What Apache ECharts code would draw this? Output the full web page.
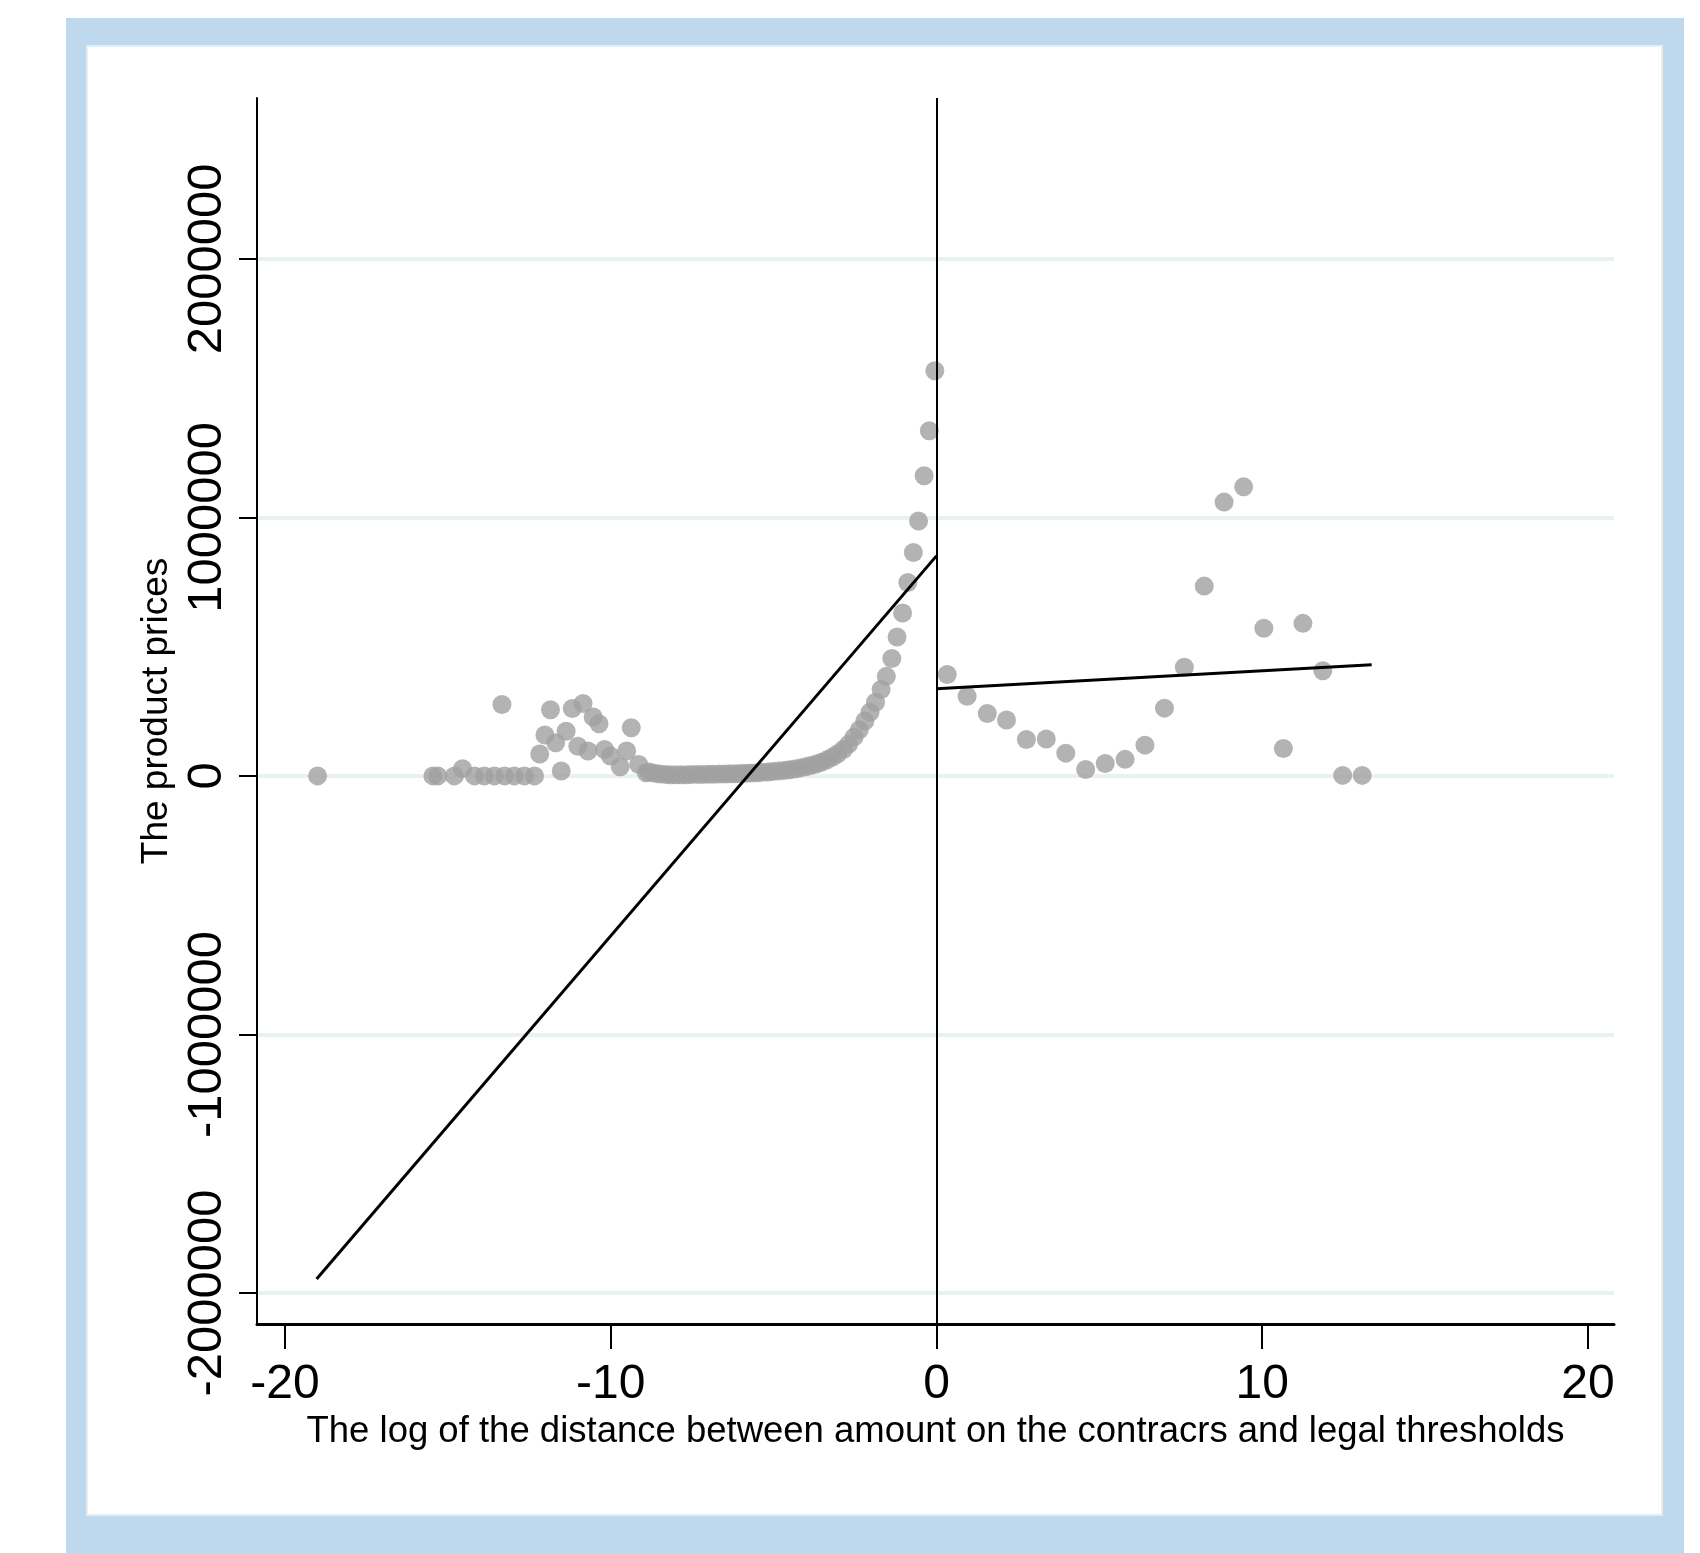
<!DOCTYPE html>
<html>
<head>
<meta charset="utf-8">
<title>Product prices vs log distance to thresholds</title>
<script src="https://cdn.jsdelivr.net/npm/echarts@6/dist/echarts.min.js"></script>
<style>
  html, body { margin: 0; padding: 0; background: #fff; }
  #main { width: 1700px; height: 1553px; }
</style>
</head>
<body>
<div id="main"></div>
<script>
// binned means, left of the threshold
const leftBinX = [
  -19.0, -15.46, -15.31, -14.80, -14.55, -14.18, -13.88, -13.57, -13.34, -13.26,
  -12.96, -12.65, -12.34, -12.18, -12.02, -11.85, -11.69, -11.52, -11.37, -11.18,
  -11.01, -10.85, -10.70, -10.54, -10.36, -10.19, -10.01, -9.71, -9.51, -9.37,
  -9.14, -8.91,
  -8.82, -8.65, -8.49, -8.32, -8.16, -7.99, -7.83, -7.66, -7.50, -7.33,
  -7.17, -7.00, -6.84, -6.67, -6.50, -6.34, -6.17, -6.01, -5.84, -5.68,
  -5.51, -5.35, -5.18, -5.02, -4.85, -4.68, -4.52, -4.35, -4.19, -4.02,
  -3.86, -3.69, -3.53, -3.36, -3.19, -3.03, -2.86, -2.70, -2.53, -2.37,
  -2.20, -2.04, -1.87, -1.70, -1.54, -1.37, -1.21, -1.04, -0.88, -0.71,
  -0.55, -0.38, -0.22, -0.05
];
const leftBinPrice = [
  0, 0, 0, 0, 28000, 0, 0, 0, 276000, 0,
  0, 0, 0, 85000, 158000, 256000, 128000, 19000, 173000, 261000,
  115000, 280000, 96000, 228000, 202000, 102000, 77000, 35000, 96000, 186000,
  44000, 12000,
  15000, 10000, 7000, 5000, 4000, 4000, 4000, 4000, 5000, 5000,
  5000, 6000, 6000, 7000, 7000, 8000, 8000, 9000, 10000, 11000,
  12000, 14000, 15000, 17000, 19000, 21000, 24000, 27000, 31000, 35000,
  40000, 46000, 53000, 62000, 73000, 86000, 102000, 122000, 150000, 178000,
  212000, 246000, 285000, 334000, 385000, 454000, 537000, 630000, 748000, 864000,
  986000, 1161000, 1335000, 1567000
];

// binned means, right of the threshold
const rightBinX = [
  0.33, 0.94, 1.56, 2.15, 2.76, 3.37, 3.97, 4.58, 5.18, 5.79, 6.40,
  7.00, 7.61, 8.22, 8.83, 9.43, 10.05, 10.65, 11.25, 11.86, 12.47, 13.07
];
const rightBinPrice = [
  392000, 308000, 241000, 216000, 141000, 143000, 88000, 25000, 48000, 64000, 119000,
  262000, 420000, 734000, 1059000, 1118000, 571000, 106000, 590000, 407000, 2000, 2000
];

// linear fits on each side
const leftFitX = [-19.03, 0];
const leftFitPrice = [-1946000, 851000];
const rightFitX = [0, 13.36];
const rightFitPrice = [337000, 430000];

const xTicks = [-20, -10, 0, 10, 20];
const yTicks = [-2000000, -1000000, 0, 1000000, 2000000];

function zip(xs, ys) {
  return xs.map((x, i) => [x, ys[i]]);
}

const tickFont = "'Liberation Sans', Arial, sans-serif";
const titleFont = "'Liberation Sans', Arial, sans-serif";

let myChart = echarts.init(document.getElementById('main'));

let option = {
  animation: false,
  graphic: [
    {
      type: 'rect', z: -20, silent: true,
      shape: { x: 66, y: 18, width: 1618, height: 1535 },
      style: { fill: '#bed8ed' }
    },
    {
      type: 'rect', z: -19, silent: true,
      shape: { x: 87, y: 46, width: 1575, height: 1469 },
      style: { fill: '#ffffff', stroke: '#e4edf1', lineWidth: 2 }
    }
  ],
  grid: {
    left: 257,
    right: 86,
    top: 98,
    bottom: 229
  },
  xAxis: {
    type: 'value',
    min: -20.86,
    max: 20.8,
    name: 'The log of the distance between amount on the contracrs and legal thresholds',
    nameLocation: 'middle',
    nameGap: 88,
    nameTextStyle: { fontFamily: titleFont, fontSize: 36.5, color: '#000' },
    axisLine: { show: true, onZero: false, lineStyle: { color: '#000', width: 3 } },
    axisTick: { show: true, length: 25, lineStyle: { color: '#000', width: 2 }, customValues: xTicks },
    axisLabel: {
      customValues: xTicks,
      margin: 37,
      fontFamily: tickFont,
      fontSize: 48,
      color: '#000',
      formatter: v => String(v)
    },
    splitLine: { show: false }
  },
  yAxis: {
    type: 'value',
    min: -2120000,
    max: 2622000,
    name: 'The product prices',
    nameLocation: 'middle',
    nameRotate: 90,
    nameGap: 67,
    nameTextStyle: { fontFamily: titleFont, fontSize: 37, color: '#000' },
    axisLine: { show: true, onZero: false, lineStyle: { color: '#000', width: 2 } },
    axisTick: { show: true, length: 18, lineStyle: { color: '#000', width: 2 }, customValues: yTicks },
    axisLabel: {
      customValues: yTicks,
      rotate: 90,
      margin: 25,
      fontFamily: tickFont,
      fontSize: 49,
      color: '#000',
      formatter: v => String(v)
    },
    splitLine: { show: true, lineStyle: { color: '#eaf1f3', width: 4 } }
  },
  series: [
    {
      name: 'bins left',
      type: 'scatter',
      symbolSize: 19,
      itemStyle: { color: '#a0a0a0' },
      data: zip(leftBinX, leftBinPrice),
      z: 2
    },
    {
      name: 'bins right',
      type: 'scatter',
      symbolSize: 19,
      itemStyle: { color: '#a0a0a0' },
      data: zip(rightBinX, rightBinPrice),
      z: 2
    },
    {
      name: 'fit left',
      type: 'line',
      showSymbol: false,
      symbol: 'none',
      lineStyle: { color: '#000', width: 3 },
      data: zip(leftFitX, leftFitPrice),
      z: 3,
      markLine: {
        silent: true,
        symbol: 'none',
        label: { show: false },
        lineStyle: { color: '#000', width: 2, type: 'solid' },
        data: [{ xAxis: 0 }]
      }
    },
    {
      name: 'fit right',
      type: 'line',
      showSymbol: false,
      symbol: 'none',
      lineStyle: { color: '#000', width: 3 },
      data: zip(rightFitX, rightFitPrice),
      z: 3
    }
  ]
};

myChart.setOption(option);
</script>
</body>
</html>
